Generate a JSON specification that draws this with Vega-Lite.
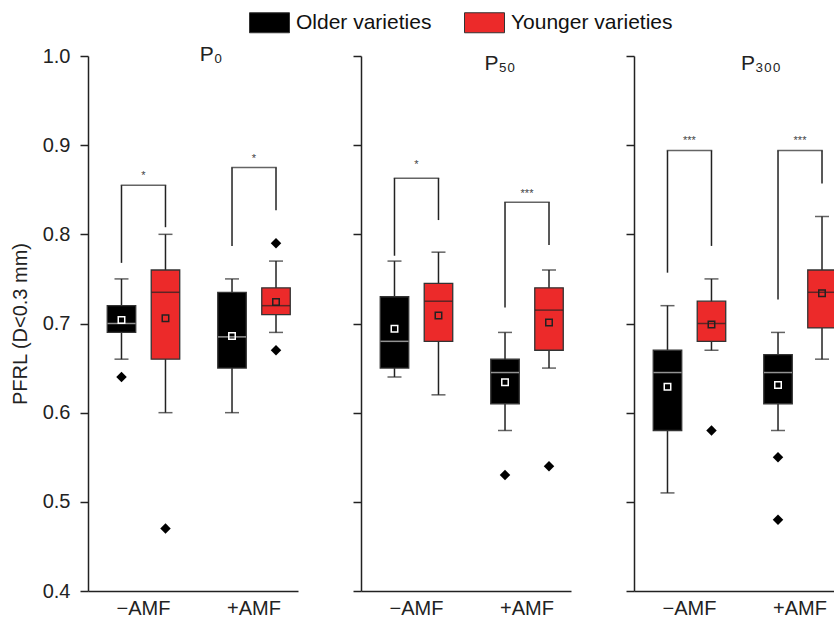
{
  "$schema": "https://vega.github.io/schema/vega-lite/v6.json",
  "padding": {"left": 10, "top": 2, "right": 0, "bottom": 0},
  "config": {
    "font": "Liberation Sans",
    "view": {"stroke": null},
    "axis": {"grid": false, "domainColor": "#222", "tickColor": "#222", "domainWidth": 1.5, "tickWidth": 1.5, "labelColor": "#222", "titleColor": "#222", "labelFontSize": 20, "titleFontSize": 20, "titleFontWeight": "normal"},
    "title": {"fontSize": 21, "fontWeight": "normal", "color": "#222", "frame": "group", "offset": -19, "baseline": "alphabetic", "anchor": "middle"}
  },
  "datasets": {
    "boxes": [
      {"panel": "P0", "amf": "−AMF", "variety": "Older", "min": 0.66, "q1": 0.69, "median": 0.70, "q3": 0.72, "max": 0.75, "mean": 0.704},
      {"panel": "P0", "amf": "−AMF", "variety": "Younger", "min": 0.60, "q1": 0.66, "median": 0.735, "q3": 0.76, "max": 0.80, "mean": 0.706},
      {"panel": "P0", "amf": "+AMF", "variety": "Older", "min": 0.60, "q1": 0.65, "median": 0.685, "q3": 0.735, "max": 0.75, "mean": 0.686},
      {"panel": "P0", "amf": "+AMF", "variety": "Younger", "min": 0.69, "q1": 0.71, "median": 0.72, "q3": 0.74, "max": 0.77, "mean": 0.724},
      {"panel": "P50", "amf": "−AMF", "variety": "Older", "min": 0.64, "q1": 0.65, "median": 0.68, "q3": 0.73, "max": 0.77, "mean": 0.694},
      {"panel": "P50", "amf": "−AMF", "variety": "Younger", "min": 0.62, "q1": 0.68, "median": 0.725, "q3": 0.745, "max": 0.78, "mean": 0.709},
      {"panel": "P50", "amf": "+AMF", "variety": "Older", "min": 0.58, "q1": 0.61, "median": 0.645, "q3": 0.66, "max": 0.69, "mean": 0.634},
      {"panel": "P50", "amf": "+AMF", "variety": "Younger", "min": 0.65, "q1": 0.67, "median": 0.715, "q3": 0.74, "max": 0.76, "mean": 0.701},
      {"panel": "P300", "amf": "−AMF", "variety": "Older", "min": 0.51, "q1": 0.58, "median": 0.645, "q3": 0.67, "max": 0.72, "mean": 0.629},
      {"panel": "P300", "amf": "−AMF", "variety": "Younger", "min": 0.67, "q1": 0.68, "median": 0.70, "q3": 0.725, "max": 0.75, "mean": 0.699},
      {"panel": "P300", "amf": "+AMF", "variety": "Older", "min": 0.58, "q1": 0.61, "median": 0.645, "q3": 0.665, "max": 0.69, "mean": 0.631},
      {"panel": "P300", "amf": "+AMF", "variety": "Younger", "min": 0.66, "q1": 0.695, "median": 0.735, "q3": 0.76, "max": 0.82, "mean": 0.734}
    ],
    "outliers": [
      {"panel": "P0", "amf": "−AMF", "variety": "Older", "value": 0.64},
      {"panel": "P0", "amf": "−AMF", "variety": "Younger", "value": 0.47},
      {"panel": "P0", "amf": "+AMF", "variety": "Younger", "value": 0.79},
      {"panel": "P0", "amf": "+AMF", "variety": "Younger", "value": 0.67},
      {"panel": "P50", "amf": "+AMF", "variety": "Older", "value": 0.53},
      {"panel": "P50", "amf": "+AMF", "variety": "Younger", "value": 0.54},
      {"panel": "P300", "amf": "−AMF", "variety": "Younger", "value": 0.58},
      {"panel": "P300", "amf": "+AMF", "variety": "Older", "value": 0.55},
      {"panel": "P300", "amf": "+AMF", "variety": "Older", "value": 0.48}
    ],
    "brackets": [
      {"panel": "P0", "amf": "−AMF", "top": 0.855, "Older": 0.768, "Younger": 0.808, "stars": "*", "starY": 0.869},
      {"panel": "P0", "amf": "+AMF", "top": 0.875, "Older": 0.787, "Younger": 0.827, "stars": "*", "starY": 0.888},
      {"panel": "P50", "amf": "−AMF", "top": 0.863, "Older": 0.776, "Younger": 0.816, "stars": "*", "starY": 0.881},
      {"panel": "P50", "amf": "+AMF", "top": 0.836, "Older": 0.718, "Younger": 0.788, "stars": "***", "starY": 0.849},
      {"panel": "P300", "amf": "−AMF", "top": 0.894, "Older": 0.757, "Younger": 0.787, "stars": "***", "starY": 0.908},
      {"panel": "P300", "amf": "+AMF", "top": 0.894, "Older": 0.727, "Younger": 0.857, "stars": "***", "starY": 0.908}
    ]
  },
  "spacing": 63,
  "bounds": "flush",
  "resolve": {"scale": {"color": "shared"}, "legend": {"color": "shared"}},
  "hconcat": [
    {
      "width": 210, "height": 535,
      "title": {"text": "P₀", "dx": 18},
      "encoding": {"x": {"field": "amf", "type": "nominal", "sort": ["−AMF", "+AMF"], "scale": {"domain": ["−AMF", "+AMF"], "paddingInner": 0.204, "paddingOuter": 0.052, "align": 1}, "axis": {"title": null, "labelAngle": 0, "ticks": false, "labelPadding": 7}}},
      "layer": [
        {"data": {"name": "boxes"}, "transform": [{"filter": "datum.panel === 'P0'"}], "mark": {"type": "rule", "color": "#222", "strokeWidth": 1.5},
         "encoding": {"xOffset": {"field": "variety", "type": "nominal", "scale": {"domain": ["Older", "Younger"], "paddingInner": 0.352, "paddingOuter": 0.176}},
           "y": {"field": "min", "type": "quantitative", "scale": {"domain": [0.4, 1.0], "nice": false, "zero": false}, "axis": {"title": "PFRL (D<0.3 mm)", "values": [0.4, 0.5, 0.6, 0.7, 0.8, 0.9, 1.0], "format": ".1f", "tickSize": 8, "labelPadding": 10, "titlePadding": 12}},
           "y2": {"field": "max"}}},
        {"data": {"name": "boxes"}, "transform": [{"filter": "datum.panel === 'P0'"}, {"fold": ["min", "max"], "as": ["stat", "val"]}], "mark": {"type": "tick", "orient": "horizontal", "size": 14, "thickness": 1.5, "color": "#222"},
         "encoding": {"xOffset": {"field": "variety", "type": "nominal"}, "y": {"field": "val", "type": "quantitative"}}},
        {"data": {"name": "boxes"}, "transform": [{"filter": "datum.panel === 'P0'"}], "mark": {"type": "bar", "stroke": "#333", "strokeWidth": 1.3},
         "encoding": {"xOffset": {"field": "variety", "type": "nominal"}, "y": {"field": "q1", "type": "quantitative"}, "y2": {"field": "q3"},
           "color": {"field": "variety", "type": "nominal", "scale": {"domain": ["Older", "Younger"], "range": ["#000000", "#EC2A2A"]},
             "legend": {"orient": "none", "legendX": 161, "legendY": -54, "direction": "horizontal", "title": null, "labelFontSize": 21, "labelColor": "#111", "labelLimit": 400, "symbolType": "M-1,-0.5H1V0.5H-1Z", "symbolSize": 1600, "symbolStrokeColor": "#333", "symbolStrokeWidth": 1, "columnPadding": 30, "labelOffset": 6, "labelExpr": "datum.label + ' varieties'"}}}},
        {"data": {"name": "boxes"}, "transform": [{"filter": "datum.panel === 'P0'"}], "mark": {"type": "tick", "orient": "horizontal", "size": 28, "thickness": 1.5},
         "encoding": {"xOffset": {"field": "variety", "type": "nominal"}, "y": {"field": "median", "type": "quantitative"}, "color": {"condition": {"test": "datum.variety === 'Older'", "value": "#d0d0d0"}, "value": "#222"}}},
        {"data": {"name": "boxes"}, "transform": [{"filter": "datum.panel === 'P0'"}], "mark": {"type": "point", "shape": "square", "size": 42, "strokeWidth": 1.5, "filled": false, "opacity": 1},
         "encoding": {"xOffset": {"field": "variety", "type": "nominal"}, "y": {"field": "mean", "type": "quantitative"}, "color": {"condition": {"test": "datum.variety === 'Older'", "value": "#ffffff"}, "value": "#222"}}},
        {"data": {"name": "outliers"}, "transform": [{"filter": "datum.panel === 'P0'"}], "mark": {"type": "point", "shape": "diamond", "size": 110, "filled": true, "color": "#000", "opacity": 1},
         "encoding": {"xOffset": {"field": "variety", "type": "nominal"}, "y": {"field": "value", "type": "quantitative"}}},
        {"data": {"name": "brackets"}, "transform": [{"filter": "datum.panel === 'P0'"}, {"fold": ["Older", "Younger"], "as": ["variety", "bottom"]}], "mark": {"type": "rule", "color": "#222", "strokeWidth": 1.5},
         "encoding": {"xOffset": {"field": "variety", "type": "nominal"}, "y": {"field": "bottom", "type": "quantitative"}, "y2": {"field": "top"}}},
        {"data": {"name": "brackets"}, "transform": [{"filter": "datum.panel === 'P0'"}], "mark": {"type": "tick", "orient": "horizontal", "size": 45.5, "thickness": 1.5, "color": "#222"},
         "encoding": {"y": {"field": "top", "type": "quantitative"}}},
        {"data": {"name": "brackets"}, "transform": [{"filter": "datum.panel === 'P0'"}], "mark": {"type": "text", "fontSize": 11, "color": "#444", "baseline": "alphabetic", "dy": 6},
         "encoding": {"y": {"field": "starY", "type": "quantitative"}, "text": {"field": "stars"}}}
      ]
    },
    {
      "width": 210, "height": 535,
      "title": {"text": "P₅₀", "dx": 34},
      "encoding": {"x": {"field": "amf", "type": "nominal", "sort": ["−AMF", "+AMF"], "scale": {"domain": ["−AMF", "+AMF"], "paddingInner": 0.204, "paddingOuter": 0.052, "align": 1}, "axis": {"title": null, "labelAngle": 0, "ticks": false, "labelPadding": 7}}},
      "layer": [
        {"data": {"name": "boxes"}, "transform": [{"filter": "datum.panel === 'P50'"}], "mark": {"type": "rule", "color": "#222", "strokeWidth": 1.5},
         "encoding": {"xOffset": {"field": "variety", "type": "nominal", "scale": {"domain": ["Older", "Younger"], "paddingInner": 0.352, "paddingOuter": 0.176}},
           "y": {"field": "min", "type": "quantitative", "scale": {"domain": [0.4, 1.0], "nice": false, "zero": false}, "axis": {"title": null, "labels": false, "values": [0.4, 0.5, 0.6, 0.7, 0.8, 0.9, 1.0], "tickSize": 8}},
           "y2": {"field": "max"}}},
        {"data": {"name": "boxes"}, "transform": [{"filter": "datum.panel === 'P50'"}, {"fold": ["min", "max"], "as": ["stat", "val"]}], "mark": {"type": "tick", "orient": "horizontal", "size": 14, "thickness": 1.5, "color": "#222"},
         "encoding": {"xOffset": {"field": "variety", "type": "nominal"}, "y": {"field": "val", "type": "quantitative"}}},
        {"data": {"name": "boxes"}, "transform": [{"filter": "datum.panel === 'P50'"}], "mark": {"type": "bar", "stroke": "#333", "strokeWidth": 1.3},
         "encoding": {"xOffset": {"field": "variety", "type": "nominal"}, "y": {"field": "q1", "type": "quantitative"}, "y2": {"field": "q3"},
           "color": {"field": "variety", "type": "nominal", "scale": {"domain": ["Older", "Younger"], "range": ["#000000", "#EC2A2A"]}}}},
        {"data": {"name": "boxes"}, "transform": [{"filter": "datum.panel === 'P50'"}], "mark": {"type": "tick", "orient": "horizontal", "size": 28, "thickness": 1.5},
         "encoding": {"xOffset": {"field": "variety", "type": "nominal"}, "y": {"field": "median", "type": "quantitative"}, "color": {"condition": {"test": "datum.variety === 'Older'", "value": "#d0d0d0"}, "value": "#222"}}},
        {"data": {"name": "boxes"}, "transform": [{"filter": "datum.panel === 'P50'"}], "mark": {"type": "point", "shape": "square", "size": 42, "strokeWidth": 1.5, "filled": false, "opacity": 1},
         "encoding": {"xOffset": {"field": "variety", "type": "nominal"}, "y": {"field": "mean", "type": "quantitative"}, "color": {"condition": {"test": "datum.variety === 'Older'", "value": "#ffffff"}, "value": "#222"}}},
        {"data": {"name": "outliers"}, "transform": [{"filter": "datum.panel === 'P50'"}], "mark": {"type": "point", "shape": "diamond", "size": 110, "filled": true, "color": "#000", "opacity": 1},
         "encoding": {"xOffset": {"field": "variety", "type": "nominal"}, "y": {"field": "value", "type": "quantitative"}}},
        {"data": {"name": "brackets"}, "transform": [{"filter": "datum.panel === 'P50'"}, {"fold": ["Older", "Younger"], "as": ["variety", "bottom"]}], "mark": {"type": "rule", "color": "#222", "strokeWidth": 1.5},
         "encoding": {"xOffset": {"field": "variety", "type": "nominal"}, "y": {"field": "bottom", "type": "quantitative"}, "y2": {"field": "top"}}},
        {"data": {"name": "brackets"}, "transform": [{"filter": "datum.panel === 'P50'"}], "mark": {"type": "tick", "orient": "horizontal", "size": 45.5, "thickness": 1.5, "color": "#222"},
         "encoding": {"y": {"field": "top", "type": "quantitative"}}},
        {"data": {"name": "brackets"}, "transform": [{"filter": "datum.panel === 'P50'"}], "mark": {"type": "text", "fontSize": 11, "color": "#444", "baseline": "alphabetic", "dy": 6},
         "encoding": {"y": {"field": "starY", "type": "quantitative"}, "text": {"field": "stars"}}}
      ]
    },
    {
      "width": 210, "height": 535,
      "title": {"text": "P₃₀₀", "dx": 22},
      "encoding": {"x": {"field": "amf", "type": "nominal", "sort": ["−AMF", "+AMF"], "scale": {"domain": ["−AMF", "+AMF"], "paddingInner": 0.204, "paddingOuter": 0.052, "align": 1}, "axis": {"title": null, "labelAngle": 0, "ticks": false, "labelPadding": 7}}},
      "layer": [
        {"data": {"name": "boxes"}, "transform": [{"filter": "datum.panel === 'P300'"}], "mark": {"type": "rule", "color": "#222", "strokeWidth": 1.5},
         "encoding": {"xOffset": {"field": "variety", "type": "nominal", "scale": {"domain": ["Older", "Younger"], "paddingInner": 0.352, "paddingOuter": 0.176}},
           "y": {"field": "min", "type": "quantitative", "scale": {"domain": [0.4, 1.0], "nice": false, "zero": false}, "axis": {"title": null, "labels": false, "values": [0.4, 0.5, 0.6, 0.7, 0.8, 0.9, 1.0], "tickSize": 8}},
           "y2": {"field": "max"}}},
        {"data": {"name": "boxes"}, "transform": [{"filter": "datum.panel === 'P300'"}, {"fold": ["min", "max"], "as": ["stat", "val"]}], "mark": {"type": "tick", "orient": "horizontal", "size": 14, "thickness": 1.5, "color": "#222"},
         "encoding": {"xOffset": {"field": "variety", "type": "nominal"}, "y": {"field": "val", "type": "quantitative"}}},
        {"data": {"name": "boxes"}, "transform": [{"filter": "datum.panel === 'P300'"}], "mark": {"type": "bar", "stroke": "#333", "strokeWidth": 1.3},
         "encoding": {"xOffset": {"field": "variety", "type": "nominal"}, "y": {"field": "q1", "type": "quantitative"}, "y2": {"field": "q3"},
           "color": {"field": "variety", "type": "nominal", "scale": {"domain": ["Older", "Younger"], "range": ["#000000", "#EC2A2A"]}}}},
        {"data": {"name": "boxes"}, "transform": [{"filter": "datum.panel === 'P300'"}], "mark": {"type": "tick", "orient": "horizontal", "size": 28, "thickness": 1.5},
         "encoding": {"xOffset": {"field": "variety", "type": "nominal"}, "y": {"field": "median", "type": "quantitative"}, "color": {"condition": {"test": "datum.variety === 'Older'", "value": "#d0d0d0"}, "value": "#222"}}},
        {"data": {"name": "boxes"}, "transform": [{"filter": "datum.panel === 'P300'"}], "mark": {"type": "point", "shape": "square", "size": 42, "strokeWidth": 1.5, "filled": false, "opacity": 1},
         "encoding": {"xOffset": {"field": "variety", "type": "nominal"}, "y": {"field": "mean", "type": "quantitative"}, "color": {"condition": {"test": "datum.variety === 'Older'", "value": "#ffffff"}, "value": "#222"}}},
        {"data": {"name": "outliers"}, "transform": [{"filter": "datum.panel === 'P300'"}], "mark": {"type": "point", "shape": "diamond", "size": 110, "filled": true, "color": "#000", "opacity": 1},
         "encoding": {"xOffset": {"field": "variety", "type": "nominal"}, "y": {"field": "value", "type": "quantitative"}}},
        {"data": {"name": "brackets"}, "transform": [{"filter": "datum.panel === 'P300'"}, {"fold": ["Older", "Younger"], "as": ["variety", "bottom"]}], "mark": {"type": "rule", "color": "#222", "strokeWidth": 1.5},
         "encoding": {"xOffset": {"field": "variety", "type": "nominal"}, "y": {"field": "bottom", "type": "quantitative"}, "y2": {"field": "top"}}},
        {"data": {"name": "brackets"}, "transform": [{"filter": "datum.panel === 'P300'"}], "mark": {"type": "tick", "orient": "horizontal", "size": 45.5, "thickness": 1.5, "color": "#222"},
         "encoding": {"y": {"field": "top", "type": "quantitative"}}},
        {"data": {"name": "brackets"}, "transform": [{"filter": "datum.panel === 'P300'"}], "mark": {"type": "text", "fontSize": 11, "color": "#444", "baseline": "alphabetic", "dy": 6},
         "encoding": {"y": {"field": "starY", "type": "quantitative"}, "text": {"field": "stars"}}}
      ]
    }
  ]
}
